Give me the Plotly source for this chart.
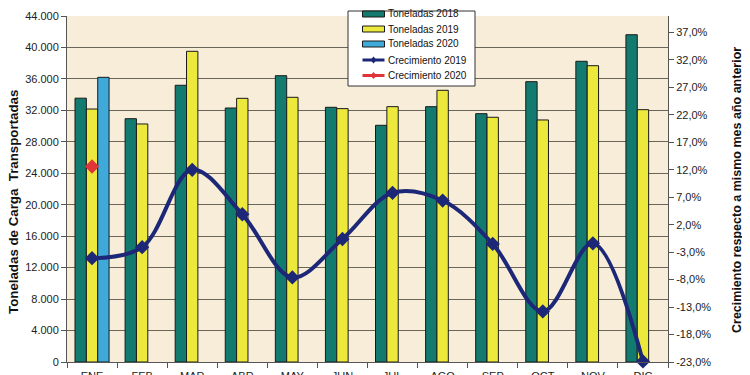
import plotly.graph_objects as go

meses = ["ENE", "FEB", "MAR", "ABR", "MAY", "JUN", "JUL", "AGO", "SEP", "OCT", "NOV", "DIC"]
ton_2018 = [33550, 30940, 35190, 32300, 36410, 32390, 30100, 32470, 31580, 35650, 38240, 41620]
ton_2019 = [32170, 30270, 39510, 33530, 33660, 32220, 32470, 34550, 31120, 30780, 37680, 32090]
ton_2020 = [36200, None, None, None, None, None, None, None, None, None, None, None]
crec_2019 = [-4.1, -2.1, 12.0, 3.9, -7.6, -0.6, 7.8, 6.4, -1.5, -13.8, -1.4, -22.9]
crec_2020 = [12.6, None, None, None, None, None, None, None, None, None, None, None]

left_ticks = list(range(0, 44001, 4000))
right_ticks = [-23 + 5 * i for i in range(13)]
right_ticktext = [f"{v:.1f}%".replace(".", ",") for v in right_ticks]

series_names = ["Toneladas 2018", "Toneladas 2019", "Toneladas 2020", "Crecimiento 2019", "Crecimiento 2020"]
series_colors = ["#137A70", "#EDE83C", "#3FA9D9", "#1C2777", "#E0333A"]

FONT = "Liberation Sans, Arial, sans-serif"

fig = go.Figure()
bar_line = dict(color="#1a1a1a", width=1)
for vals, name, col in zip([ton_2018, ton_2019, ton_2020], series_names[:3], series_colors[:3]):
    fig.add_trace(go.Bar(x=meses, y=vals, name=name, showlegend=False,
                         marker=dict(color=col, line=bar_line)))
for vals, name, col in zip([crec_2019, crec_2020], series_names[3:], series_colors[3:]):
    fig.add_trace(go.Scatter(x=meses, y=vals, name=name, yaxis="y2", showlegend=False,
                             mode="lines+markers",
                             line=dict(color=col, width=4, shape="spline", smoothing=1.0),
                             marker=dict(symbol="diamond", size=11, color=col), cliponaxis=False))

# ---- legend box (layout decoration, in plot-area paper coordinates) ----
PW, PH = 601.0, 346.0  # plot area size in px
def px_x(d):
    return d / PW
def px_y(d):
    return d / PH

shapes = []
annotations = []
box_x0, box_x1 = px_x(281), px_x(408)
box_y1, box_y0 = 1 + px_y(5), 1 - px_y(70)
shapes.append(dict(type="rect", xref="paper", yref="paper", x0=box_x0, x1=box_x1, y0=box_y0, y1=box_y1,
                   fillcolor="white", line=dict(color="#333333", width=1), layer="above"))
row_y = [1 - px_y(d) for d in (-2, 13, 28, 44, 59.5)]
sw_x0, sw_x1 = px_x(295.5), px_x(317.5)
for i, (name, col) in enumerate(zip(series_names, series_colors)):
    yc = row_y[i]
    if i < 3:
        shapes.append(dict(type="rect", xref="paper", yref="paper", x0=sw_x0, x1=sw_x1,
                           y0=yc - px_y(3), y1=yc + px_y(3), fillcolor=col,
                           line=dict(color="#1a1a1a", width=1), layer="above"))
    else:
        shapes.append(dict(type="line", xref="paper", yref="paper", x0=sw_x0, x1=sw_x1, y0=yc, y1=yc,
                           line=dict(color=col, width=3), layer="above"))
        xm = (sw_x0 + sw_x1) / 2
        dx, dy = px_x(3), px_y(3.5)
        shapes.append(dict(type="path", xref="paper", yref="paper",
                           path=f"M {xm-dx} {yc} L {xm} {yc+dy} L {xm+dx} {yc} L {xm} {yc-dy} Z",
                           fillcolor=col, line=dict(color=col, width=0), layer="above"))
    annotations.append(dict(xref="paper", yref="paper", x=px_x(319), y=yc, xanchor="left", yanchor="middle",
                            text=name, showarrow=False,
                            font=dict(family=FONT, size=10, color="#111111")))

# axis titles as rotated annotations
annotations.append(dict(xref="paper", yref="paper", x=px_x(13 - 67), y=px_y(362 - 202),
                        xanchor="center", yanchor="middle", textangle=-90, showarrow=False,
                        text="<b>Toneladas de Carga  Transportadas</b>",
                        font=dict(family=FONT, size=13.3, color="#111111")))
annotations.append(dict(xref="paper", yref="paper", x=px_x(737 - 67), y=px_y(362 - 190),
                        xanchor="center", yanchor="middle", textangle=-90, showarrow=False,
                        text="<b>Crecimiento respecto a mismo mes año anterior</b>",
                        font=dict(family=FONT, size=12.5, color="#111111")))

fig.update_layout(
    width=742, height=367,
    margin=dict(l=59, r=82, t=8, b=13, autoexpand=False),
    paper_bgcolor="white",
    plot_bgcolor="#F7EDD9",
    barmode="group",
    bargap=0.32,
    bargroupgap=0,
    font=dict(family=FONT, size=11, color="#222222"),
    showlegend=False,
    shapes=shapes,
    annotations=annotations,
    xaxis=dict(type="category", range=[-0.5, 11.5], showgrid=False, showline=True,
               linecolor="#555555", linewidth=1,
               ticks="outside", ticklen=5, tickcolor="#555555", tickson="boundaries",
               ticklabelstandoff=4,
               tickfont=dict(family=FONT, size=11, color="#222222")),
    yaxis=dict(range=[0, 44000], tickvals=left_ticks,
               ticktext=[f"{v:,}".replace(",", ".") for v in left_ticks],
               showgrid=True, gridcolor="#6B665A", gridwidth=1,
               showline=True, linecolor="#555555", linewidth=1,
               ticks="outside", ticklen=5, tickcolor="#555555", zeroline=False,
               tickfont=dict(family=FONT, size=11, color="#222222")),
    yaxis2=dict(range=[-23, 40], tickvals=right_ticks, ticktext=right_ticktext,
                overlaying="y", side="right", showgrid=False, zeroline=False,
                showline=True, linecolor="#555555", linewidth=1,
                ticks="outside", ticklen=5, tickcolor="#555555",
                tickfont=dict(family=FONT, size=11, color="#222222")),
)

fig.write_html("out.html")
